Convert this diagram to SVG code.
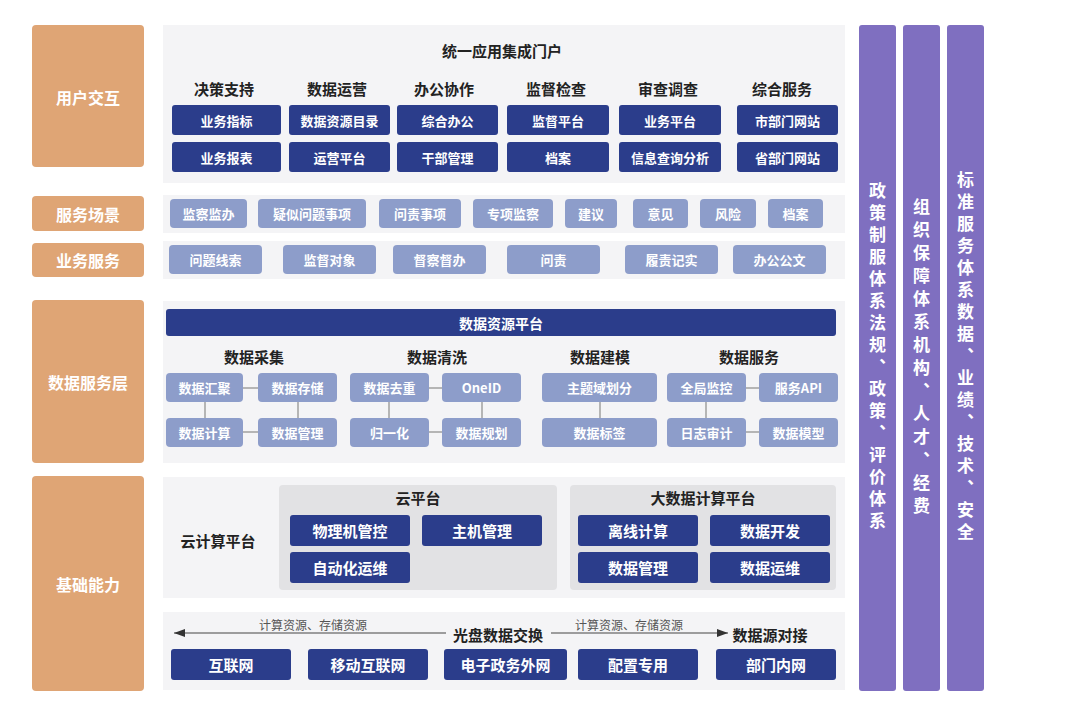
<svg xmlns="http://www.w3.org/2000/svg" width="1080" height="716" viewBox="0 0 1080 716">
<defs>
<style>
text{font-family:"Noto Sans CJK SC","Noto Sans",sans-serif;text-anchor:middle;dominant-baseline:central}
.layer{fill:#dfa575}
.layer-t{fill:#fff;font-size:16px;font-weight:700}
.side{fill:#7f6fc0}
.side-t{fill:#fff;font-size:17px;font-weight:700;writing-mode:vertical-rl;text-orientation:upright;letter-spacing:5px}
.panel{fill:#f4f4f6}
.sub{fill:#e2e2e4}
.nav{fill:#2b3d8b}
.nav-t{fill:#fff;font-size:13px;font-weight:700}
.nav-tl{fill:#fff;font-size:15px;font-weight:700}
.lt{fill:#8d9dca}
.lt-t{fill:#fff;font-size:13px;font-weight:700}
.h{fill:#222;font-size:15px;font-weight:700}
.small{fill:#555;font-size:12px}
.link{stroke:#8a8a8a;stroke-width:1.2;fill:none}
.arr{stroke:#444;stroke-width:1.2;fill:none}
</style>
<marker id="ah" viewBox="0 0 11 8" refX="11" refY="4" markerWidth="11" markerHeight="8" markerUnits="userSpaceOnUse" orient="auto-start-reverse">
<path d="M0,0 L11,4 L0,8 z" fill="#333"/>
</marker>
</defs>
<rect width="1080" height="716" fill="#fff"/>

<!-- panel backgrounds -->
<g id="backgrounds">
<rect class="panel" x="163" y="25" width="682" height="158"/>
<rect class="panel" x="163" y="195" width="682" height="38"/>
<rect class="panel" x="163" y="241" width="682" height="38"/>
<rect class="panel" x="163" y="301" width="682" height="162"/>
<rect class="panel" x="163" y="477" width="682" height="121"/>
<rect class="panel" x="163" y="612" width="682" height="78"/>
</g>

<!-- left layer labels -->
<g id="layer-user"><rect class="layer" x="32" y="25" width="112" height="142" rx="4"/><text class="layer-t" x="88" y="97">用户交互</text></g>
<g id="layer-scene"><rect class="layer" x="32" y="196" width="112" height="35" rx="4"/><text class="layer-t" x="88" y="214">服务场景</text></g>
<g id="layer-biz"><rect class="layer" x="32" y="243" width="112" height="34" rx="4"/><text class="layer-t" x="88" y="260">业务服务</text></g>
<g id="layer-data"><rect class="layer" x="32" y="300" width="112" height="163" rx="4"/><text class="layer-t" x="88" y="382">数据服务层</text></g>
<g id="layer-base"><rect class="layer" x="32" y="476" width="112" height="215" rx="4"/><text class="layer-t" x="88" y="584">基础能力</text></g>

<!-- right columns -->
<g id="col-policy"><rect class="side" x="859" y="25" width="37" height="666" rx="3"/>
<text class="side-t" x="877.5" y="358">政策制服体系法规、政策、评价体系</text></g>
<g id="col-org"><rect class="side" x="903" y="25" width="37" height="666" rx="3"/>
<text class="side-t" x="921.5" y="359" style="letter-spacing:6px">组织保障体系机构、人才、经费</text></g>
<g id="col-std"><rect class="side" x="947" y="25" width="37" height="666" rx="3"/>
<text class="side-t" x="965.5" y="358">标准服务体系数据、业绩、技术、安全</text></g>

<!-- panel 1: portal -->
<g id="portal">
<text class="h" x="502" y="50">统一应用集成门户</text>
<text class="h" x="224" y="88">决策支持</text>
<text class="h" x="337" y="88">数据运营</text>
<text class="h" x="444" y="88">办公协作</text>
<text class="h" x="556" y="88">监督检查</text>
<text class="h" x="668" y="88">审查调查</text>
<text class="h" x="782" y="88">综合服务</text>
</g>
<g id="p-yewuzhibiao"><rect class="nav" x="172" y="105" width="109" height="30" rx="3"/><text class="nav-t" x="226.5" y="120">业务指标</text></g>
<g id="p-yewubaobiao"><rect class="nav" x="172" y="142" width="109" height="30" rx="3"/><text class="nav-t" x="226.5" y="157">业务报表</text></g>
<g id="p-shujuziyuan"><rect class="nav" x="289" y="105" width="101" height="30" rx="3"/><text class="nav-t" x="339.5" y="120">数据资源目录</text></g>
<g id="p-yunying"><rect class="nav" x="289" y="142" width="101" height="30" rx="3"/><text class="nav-t" x="339.5" y="157">运营平台</text></g>
<g id="p-zonghebangong"><rect class="nav" x="397" y="105" width="101" height="30" rx="3"/><text class="nav-t" x="447.5" y="120">综合办公</text></g>
<g id="p-ganbu"><rect class="nav" x="397" y="142" width="101" height="30" rx="3"/><text class="nav-t" x="447.5" y="157">干部管理</text></g>
<g id="p-jiandu"><rect class="nav" x="507" y="105" width="102" height="30" rx="3"/><text class="nav-t" x="558" y="120">监督平台</text></g>
<g id="p-dangan"><rect class="nav" x="507" y="142" width="102" height="30" rx="3"/><text class="nav-t" x="558" y="157">档案</text></g>
<g id="p-yewupingtai"><rect class="nav" x="619" y="105" width="102" height="30" rx="3"/><text class="nav-t" x="670" y="120">业务平台</text></g>
<g id="p-xinxi"><rect class="nav" x="619" y="142" width="102" height="30" rx="3"/><text class="nav-t" x="670" y="157">信息查询分析</text></g>
<g id="p-shibumen"><rect class="nav" x="737" y="105" width="101" height="30" rx="3"/><text class="nav-t" x="787.5" y="120">市部门网站</text></g>
<g id="p-shengbumen"><rect class="nav" x="737" y="142" width="101" height="30" rx="3"/><text class="nav-t" x="787.5" y="157">省部门网站</text></g>

<!-- panel 2: scenes -->
<g id="s1"><rect class="lt" x="170" y="199" width="77" height="29" rx="4"/><text class="lt-t" x="208.5" y="213.5">监察监办</text></g>
<g id="s2"><rect class="lt" x="258" y="199" width="108" height="29" rx="4"/><text class="lt-t" x="312" y="213.5">疑似问题事项</text></g>
<g id="s3"><rect class="lt" x="379" y="199" width="82" height="29" rx="4"/><text class="lt-t" x="420" y="213.5">问责事项</text></g>
<g id="s4"><rect class="lt" x="473" y="199" width="80" height="29" rx="4"/><text class="lt-t" x="513" y="213.5">专项监察</text></g>
<g id="s5"><rect class="lt" x="565" y="199" width="52" height="29" rx="4"/><text class="lt-t" x="591" y="213.5">建议</text></g>
<g id="s6"><rect class="lt" x="633" y="199" width="55" height="29" rx="4"/><text class="lt-t" x="660.5" y="213.5">意见</text></g>
<g id="s7"><rect class="lt" x="700" y="199" width="56" height="29" rx="4"/><text class="lt-t" x="728" y="213.5">风险</text></g>
<g id="s8"><rect class="lt" x="768" y="199" width="55" height="29" rx="4"/><text class="lt-t" x="795.5" y="213.5">档案</text></g>

<!-- panel 3: business services -->
<g id="b1"><rect class="lt" x="169" y="245" width="93" height="29" rx="4"/><text class="lt-t" x="215.5" y="259.5">问题线索</text></g>
<g id="b2"><rect class="lt" x="283" y="245" width="93" height="29" rx="4"/><text class="lt-t" x="329.5" y="259.5">监督对象</text></g>
<g id="b3"><rect class="lt" x="393" y="245" width="93" height="29" rx="4"/><text class="lt-t" x="439.5" y="259.5">督察督办</text></g>
<g id="b4"><rect class="lt" x="507" y="245" width="93" height="29" rx="4"/><text class="lt-t" x="553.5" y="259.5">问责</text></g>
<g id="b5"><rect class="lt" x="625" y="245" width="93" height="29" rx="4"/><text class="lt-t" x="671.5" y="259.5">履责记实</text></g>
<g id="b6"><rect class="lt" x="733" y="245" width="93" height="29" rx="4"/><text class="lt-t" x="779.5" y="259.5">办公公文</text></g>

<!-- panel 4: data resource platform -->
<g id="data-headings">
<text class="h" x="254" y="356">数据采集</text>
<text class="h" x="437" y="356">数据清洗</text>
<text class="h" x="600" y="356">数据建模</text>
<text class="h" x="749" y="356">数据服务</text>
</g>
<g id="data-platform"><rect class="nav" x="166" y="309" width="670" height="27" rx="3"/><text class="nav-t" x="501" y="322.5" style="font-size:14px">数据资源平台</text></g>

<g id="connectors">
<line class="link" x1="243" y1="388" x2="258" y2="388"/>
<line class="link" x1="243" y1="432" x2="258" y2="432"/>
<line class="link" x1="205" y1="402" x2="205" y2="418"/>
<line class="link" x1="298" y1="402" x2="298" y2="418"/>
<line class="link" x1="429" y1="388" x2="442" y2="388"/>
<line class="link" x1="429" y1="432" x2="442" y2="432"/>
<line class="link" x1="389" y1="402" x2="389" y2="418"/>
<line class="link" x1="482" y1="402" x2="482" y2="418"/>
<line class="link" x1="600" y1="402" x2="600" y2="418"/>
<line class="link" x1="746" y1="388" x2="759" y2="388"/>
<line class="link" x1="746" y1="432" x2="759" y2="432"/>
<line class="link" x1="706" y1="402" x2="706" y2="418"/>
<line class="arr" x1="174" y1="633" x2="446" y2="633" marker-start="url(#ah)"/>
<line class="arr" x1="551" y1="633" x2="728" y2="633" marker-end="url(#ah)"/>
</g>

<g id="d-huiju"><rect class="lt" x="166" y="373" width="77" height="29" rx="4"/><text class="lt-t" x="204.5" y="387.5">数据汇聚</text></g>
<g id="d-cunchu"><rect class="lt" x="258" y="373" width="79" height="29" rx="4"/><text class="lt-t" x="297.5" y="387.5">数据存储</text></g>
<g id="d-jisuan"><rect class="lt" x="166" y="418" width="77" height="29" rx="4"/><text class="lt-t" x="204.5" y="432.5">数据计算</text></g>
<g id="d-guanli"><rect class="lt" x="258" y="418" width="79" height="29" rx="4"/><text class="lt-t" x="297.5" y="432.5">数据管理</text></g>
<g id="d-quchong"><rect class="lt" x="350" y="373" width="79" height="29" rx="4"/><text class="lt-t" x="389.5" y="387.5">数据去重</text></g>
<g id="d-oneid"><rect class="lt" x="442" y="373" width="79" height="29" rx="4"/><text class="lt-t" x="481.5" y="387.5">OneID</text></g>
<g id="d-guiyi"><rect class="lt" x="350" y="418" width="79" height="29" rx="4"/><text class="lt-t" x="389.5" y="432.5">归一化</text></g>
<g id="d-guihua"><rect class="lt" x="442" y="418" width="79" height="29" rx="4"/><text class="lt-t" x="481.5" y="432.5">数据规划</text></g>
<g id="d-zhuti"><rect class="lt" x="542" y="373" width="115" height="29" rx="4"/><text class="lt-t" x="599.5" y="387.5">主题域划分</text></g>
<g id="d-biaoqian"><rect class="lt" x="542" y="418" width="115" height="29" rx="4"/><text class="lt-t" x="599.5" y="432.5">数据标签</text></g>
<g id="d-jiankong"><rect class="lt" x="667" y="373" width="79" height="29" rx="4"/><text class="lt-t" x="706.5" y="387.5">全局监控</text></g>
<g id="d-api"><rect class="lt" x="759" y="373" width="79" height="29" rx="4"/><text class="lt-t" x="798.5" y="387.5">服务API</text></g>
<g id="d-rizhi"><rect class="lt" x="667" y="418" width="79" height="29" rx="4"/><text class="lt-t" x="706.5" y="432.5">日志审计</text></g>
<g id="d-moxing"><rect class="lt" x="759" y="418" width="79" height="29" rx="4"/><text class="lt-t" x="798.5" y="432.5">数据模型</text></g>

<!-- panel 5: cloud -->
<g id="cloud-label"><text class="h" x="218" y="540">云计算平台</text></g>
<g id="cloud-platform">
<rect class="sub" x="279" y="485" width="278" height="105" rx="4"/>
<text class="h" x="418" y="497">云平台</text>
</g>
<g id="c-wuli"><rect class="nav" x="290" y="515" width="120" height="31" rx="3"/><text class="nav-tl" x="350" y="530.5">物理机管控</text></g>
<g id="c-zhuji"><rect class="nav" x="422" y="515" width="120" height="31" rx="3"/><text class="nav-tl" x="482" y="530.5">主机管理</text></g>
<g id="c-zidong"><rect class="nav" x="290" y="552" width="120" height="31" rx="3"/><text class="nav-tl" x="350" y="567.5">自动化运维</text></g>
<g id="bigdata-platform">
<rect class="sub" x="570" y="485" width="266" height="105" rx="4"/>
<text class="h" x="703" y="497">大数据计算平台</text>
</g>
<g id="c-lixian"><rect class="nav" x="578" y="515" width="120" height="31" rx="3"/><text class="nav-tl" x="638" y="530.5">离线计算</text></g>
<g id="c-kaifa"><rect class="nav" x="710" y="515" width="120" height="31" rx="3"/><text class="nav-tl" x="770" y="530.5">数据开发</text></g>
<g id="c-guanli"><rect class="nav" x="578" y="552" width="120" height="31" rx="3"/><text class="nav-tl" x="638" y="567.5">数据管理</text></g>
<g id="c-yunwei"><rect class="nav" x="710" y="552" width="120" height="31" rx="3"/><text class="nav-tl" x="770" y="567.5">数据运维</text></g>

<!-- panel 6: networks -->
<g id="net-labels">
<text class="small" x="313" y="624">计算资源、存储资源</text>
<text class="small" x="629" y="624">计算资源、存储资源</text>
<text class="h" x="498" y="634">光盘数据交换</text>
<text class="h" x="770" y="634">数据源对接</text>
</g>
<g id="n-hulian"><rect class="nav" x="171" y="649" width="120" height="31" rx="3"/><text class="nav-tl" x="231" y="664.5">互联网</text></g>
<g id="n-yidong"><rect class="nav" x="308" y="649" width="120" height="31" rx="3"/><text class="nav-tl" x="368" y="664.5">移动互联网</text></g>
<g id="n-zhengwu"><rect class="nav" x="444" y="649" width="123" height="31" rx="3"/><text class="nav-tl" x="505.5" y="664.5">电子政务外网</text></g>
<g id="n-peizhi"><rect class="nav" x="578" y="649" width="120" height="31" rx="3"/><text class="nav-tl" x="638" y="664.5">配置专用</text></g>
<g id="n-bumen"><rect class="nav" x="716" y="649" width="120" height="31" rx="3"/><text class="nav-tl" x="776" y="664.5">部门内网</text></g>
</svg>
